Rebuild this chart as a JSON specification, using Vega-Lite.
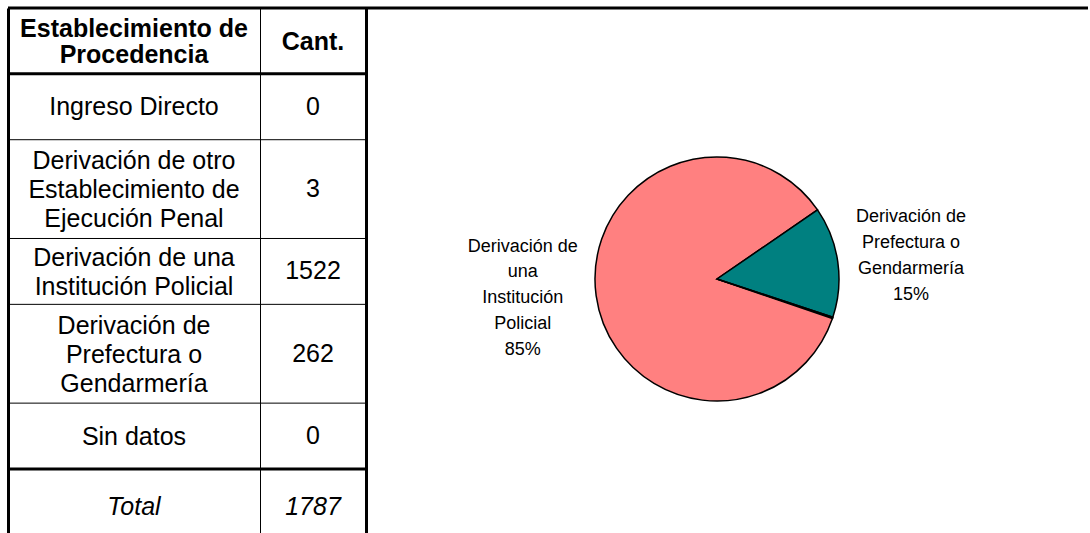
{
  "$schema": "https://vega.github.io/schema/vega-lite/v6.json",
  "background": "white",
  "padding": {"left": 6, "top": 6, "right": 0, "bottom": 0},
  "config": {"view": {"stroke": null}},
  "datasets": {
    "tabla": [
      {"fila": 1, "tipo": "encabezado", "procedencia": "Establecimiento de\nProcedencia", "cantidad": null},
      {"fila": 2, "tipo": "dato", "procedencia": "Ingreso Directo", "cantidad": 0},
      {"fila": 3, "tipo": "dato", "procedencia": "Derivación de otro\nEstablecimiento de\nEjecución Penal", "cantidad": 3},
      {"fila": 4, "tipo": "dato", "procedencia": "Derivación de una\nInstitución Policial", "cantidad": 1522, "etiqueta": "Derivación de\nuna\nInstitución\nPolicial\n85%"},
      {"fila": 5, "tipo": "dato", "procedencia": "Derivación de\nPrefectura o\nGendarmería", "cantidad": 262, "etiqueta": "Derivación de\nPrefectura o\nGendarmería\n15%"},
      {"fila": 6, "tipo": "dato", "procedencia": "Sin datos", "cantidad": 0},
      {"fila": 7, "tipo": "total", "procedencia": "Total", "cantidad": 1787}
    ]
  },
  "data": {"name": "tabla"},
  "spacing": 0,
  "bounds": "flush",
  "resolve": {"scale": {"y": "independent"}},
  "hconcat": [
    {
      "width": 252,
      "height": 542,
      "transform": [
        {"calculate": "length(split(datum.procedencia, '\\n'))", "as": "lineas"},
        {"calculate": "max(2, datum.lineas)", "as": "altura"}
      ],
      "encoding": {"order": {"field": "fila", "type": "quantitative"}},
      "layer": [
        {
          "mark": {"type": "rule", "color": "black"},
          "encoding": {
            "y": {"field": "altura", "type": "quantitative", "stack": "zero", "bandPosition": 0,
                  "scale": {"domain": [0, 16.46], "reverse": true, "nice": false, "zero": false},
                  "axis": {"orient": "left", "domainWidth": 3, "domainColor": "black", "labels": false, "ticks": false, "grid": false, "title": null}},
            "strokeWidth": {"condition": {"test": "datum.tipo === 'dato'", "value": 1}, "value": 3}
          }
        },
        {
          "mark": {"type": "rule", "color": "black"},
          "encoding": {
            "y": {"field": "altura", "type": "quantitative", "stack": "zero", "bandPosition": 1,
                  "axis": {"orient": "left", "domainWidth": 3, "domainColor": "black", "labels": false, "ticks": false, "grid": false, "title": null}},
            "strokeWidth": {"condition": {"test": "datum.tipo === 'encabezado'", "value": 3}, "value": 0}
          }
        },
        {
          "mark": {"type": "text", "font": "Liberation Sans", "fontSize": 25, "fontWeight": "bold", "lineHeight": 26, "lineBreak": "\n", "align": "center", "baseline": "middle", "color": "black"},
          "encoding": {
            "y": {"field": "altura", "type": "quantitative", "stack": "zero", "bandPosition": 0.326,
                  "axis": {"orient": "left", "domainWidth": 3, "domainColor": "black", "labels": false, "ticks": false, "grid": false, "title": null}},
            "text": {"condition": {"test": "datum.tipo === 'encabezado'", "field": "procedencia"}, "value": ""}
          }
        },
        {
          "mark": {"type": "text", "font": "Liberation Sans", "fontSize": 25, "lineHeight": 29, "lineBreak": "\n", "align": "center", "baseline": "middle", "color": "black"},
          "encoding": {
            "y": {"field": "altura", "type": "quantitative", "stack": "zero", "bandPosition": 0.51,
                  "axis": {"orient": "left", "domainWidth": 3, "domainColor": "black", "labels": false, "ticks": false, "grid": false, "title": null}},
            "text": {"condition": {"test": "datum.tipo === 'dato' && datum.lineas === 1", "field": "procedencia"}, "value": ""}
          }
        },
        {
          "mark": {"type": "text", "font": "Liberation Sans", "fontSize": 25, "lineHeight": 29, "lineBreak": "\n", "align": "center", "baseline": "middle", "color": "black"},
          "encoding": {
            "y": {"field": "altura", "type": "quantitative", "stack": "zero", "bandPosition": 0.29,
                  "axis": {"orient": "left", "domainWidth": 3, "domainColor": "black", "labels": false, "ticks": false, "grid": false, "title": null}},
            "text": {"condition": {"test": "datum.tipo === 'dato' && datum.lineas === 2", "field": "procedencia"}, "value": ""}
          }
        },
        {
          "mark": {"type": "text", "font": "Liberation Sans", "fontSize": 25, "lineHeight": 29, "lineBreak": "\n", "align": "center", "baseline": "middle", "color": "black"},
          "encoding": {
            "y": {"field": "altura", "type": "quantitative", "stack": "zero", "bandPosition": 0.215,
                  "axis": {"orient": "left", "domainWidth": 3, "domainColor": "black", "labels": false, "ticks": false, "grid": false, "title": null}},
            "text": {"condition": {"test": "datum.tipo === 'dato' && datum.lineas === 3", "field": "procedencia"}, "value": ""}
          }
        },
        {
          "mark": {"type": "text", "font": "Liberation Sans", "fontSize": 25, "fontStyle": "italic", "lineHeight": 29, "lineBreak": "\n", "align": "center", "baseline": "middle", "color": "black"},
          "encoding": {
            "y": {"field": "altura", "type": "quantitative", "stack": "zero", "bandPosition": 0.57,
                  "axis": {"orient": "left", "domainWidth": 3, "domainColor": "black", "labels": false, "ticks": false, "grid": false, "title": null}},
            "text": {"condition": {"test": "datum.tipo === 'total'", "field": "procedencia"}, "value": ""}
          }
        }
      ]
    },
    {
      "width": 106,
      "height": 542,
      "transform": [
        {"calculate": "length(split(datum.procedencia, '\\n'))", "as": "lineas"},
        {"calculate": "max(2, datum.lineas)", "as": "altura"}
      ],
      "encoding": {"order": {"field": "fila", "type": "quantitative"}},
      "layer": [
        {
          "mark": {"type": "rule", "color": "black"},
          "encoding": {
            "y": {"field": "altura", "type": "quantitative", "stack": "zero", "bandPosition": 0,
                  "scale": {"domain": [0, 16.46], "reverse": true, "nice": false, "zero": false},
                  "axis": {"orient": "left", "domainWidth": 1, "domainColor": "black", "labels": false, "ticks": false, "grid": false, "title": null}},
            "strokeWidth": {"condition": {"test": "datum.tipo === 'dato'", "value": 1}, "value": 3}
          }
        },
        {
          "mark": {"type": "rule", "color": "black"},
          "encoding": {
            "y": {"field": "altura", "type": "quantitative", "stack": "zero", "bandPosition": 1,
                  "axis": {"orient": "left", "domainWidth": 1, "domainColor": "black", "labels": false, "ticks": false, "grid": false, "title": null}},
            "strokeWidth": {"condition": {"test": "datum.tipo === 'encabezado'", "value": 3}, "value": 0}
          }
        },
        {
          "mark": {"type": "text", "font": "Liberation Sans", "fontSize": 25, "fontWeight": "bold", "align": "center", "baseline": "middle", "color": "black"},
          "encoding": {
            "y": {"field": "altura", "type": "quantitative", "stack": "zero", "bandPosition": 0.51,
                  "axis": {"orient": "left", "domainWidth": 1, "domainColor": "black", "labels": false, "ticks": false, "grid": false, "title": null}},
            "text": {"condition": {"test": "datum.tipo === 'encabezado'", "value": "Cant."}, "value": ""}
          }
        },
        {
          "mark": {"type": "text", "font": "Liberation Sans", "fontSize": 25, "align": "center", "baseline": "middle", "color": "black"},
          "encoding": {
            "y": {"field": "altura", "type": "quantitative", "stack": "zero", "bandPosition": 0.5,
                  "axis": {"orient": "left", "domainWidth": 1, "domainColor": "black", "labels": false, "ticks": false, "grid": false, "title": null}},
            "text": {"condition": {"test": "datum.tipo === 'dato'", "field": "cantidad", "type": "quantitative", "format": "d"}, "value": ""}
          }
        },
        {
          "mark": {"type": "text", "font": "Liberation Sans", "fontSize": 25, "fontStyle": "italic", "align": "center", "baseline": "middle", "color": "black"},
          "encoding": {
            "y": {"field": "altura", "type": "quantitative", "stack": "zero", "bandPosition": 0.57,
                  "axis": {"orient": "left", "domainWidth": 1, "domainColor": "black", "labels": false, "ticks": false, "grid": false, "title": null}},
            "text": {"condition": {"test": "datum.tipo === 'total'", "field": "cantidad", "type": "quantitative", "format": "d"}, "value": ""}
          }
        }
      ]
    },
    {
      "width": 702,
      "height": 542,
      "transform": [{"filter": "datum.tipo === 'dato'"}],
      "layer": [
        {
          "transform": [{"filter": "datum.fila === 2"}],
          "mark": {"type": "rule", "color": "black", "strokeWidth": 3},
          "encoding": {"y": {"datum": 1, "type": "quantitative", "scale": {"domain": [0, 1]},
            "axis": {"orient": "left", "domainWidth": 3, "domainColor": "black", "labels": false, "ticks": false, "grid": false, "title": null}}}
        },
        {
          "mark": {"type": "arc", "outerRadius": 122, "stroke": "black", "strokeWidth": 1.5},
          "encoding": {
            "theta": {"field": "cantidad", "type": "quantitative", "stack": "zero", "scale": {"range": [1.89, 8.173]}},
            "order": {"field": "fila", "type": "quantitative"},
            "color": {"field": "procedencia", "type": "nominal", "legend": null,
              "scale": {"domain": ["Ingreso Directo", "Derivación de otro\nEstablecimiento de\nEjecución Penal", "Derivación de una\nInstitución Policial", "Derivación de\nPrefectura o\nGendarmería", "Sin datos"],
                        "range": ["#9999FF", "#111111", "#FF8080", "#008080", "#FFFFCC"]}}
          }
        },
        {
          "mark": {"type": "text", "radius": 196, "dy": -59, "font": "Liberation Sans", "fontSize": 18, "lineHeight": 25.75, "lineBreak": "\n", "align": "center", "baseline": "middle", "color": "black"},
          "encoding": {
            "theta": {"field": "cantidad", "type": "quantitative", "stack": "zero"},
            "order": {"field": "fila", "type": "quantitative"},
            "text": {"condition": {"test": "isValid(datum.etiqueta) && datum.fila === 4", "field": "etiqueta"}, "value": ""}
          }
        },
        {
          "mark": {"type": "text", "radius": 196, "dy": -34, "font": "Liberation Sans", "fontSize": 18, "lineHeight": 25.75, "lineBreak": "\n", "align": "center", "baseline": "middle", "color": "black"},
          "encoding": {
            "theta": {"field": "cantidad", "type": "quantitative", "stack": "zero"},
            "order": {"field": "fila", "type": "quantitative"},
            "text": {"condition": {"test": "isValid(datum.etiqueta) && datum.fila === 5", "field": "etiqueta"}, "value": ""}
          }
        }
      ]
    },
    {
      "width": 20,
      "height": 542,
      "transform": [{"filter": "datum.fila === 1"}],
      "mark": {"type": "rule", "color": "black", "strokeWidth": 3},
      "encoding": {"y": {"datum": 1, "type": "quantitative", "scale": {"domain": [0, 1]}, "axis": null}}
    }
  ]
}
